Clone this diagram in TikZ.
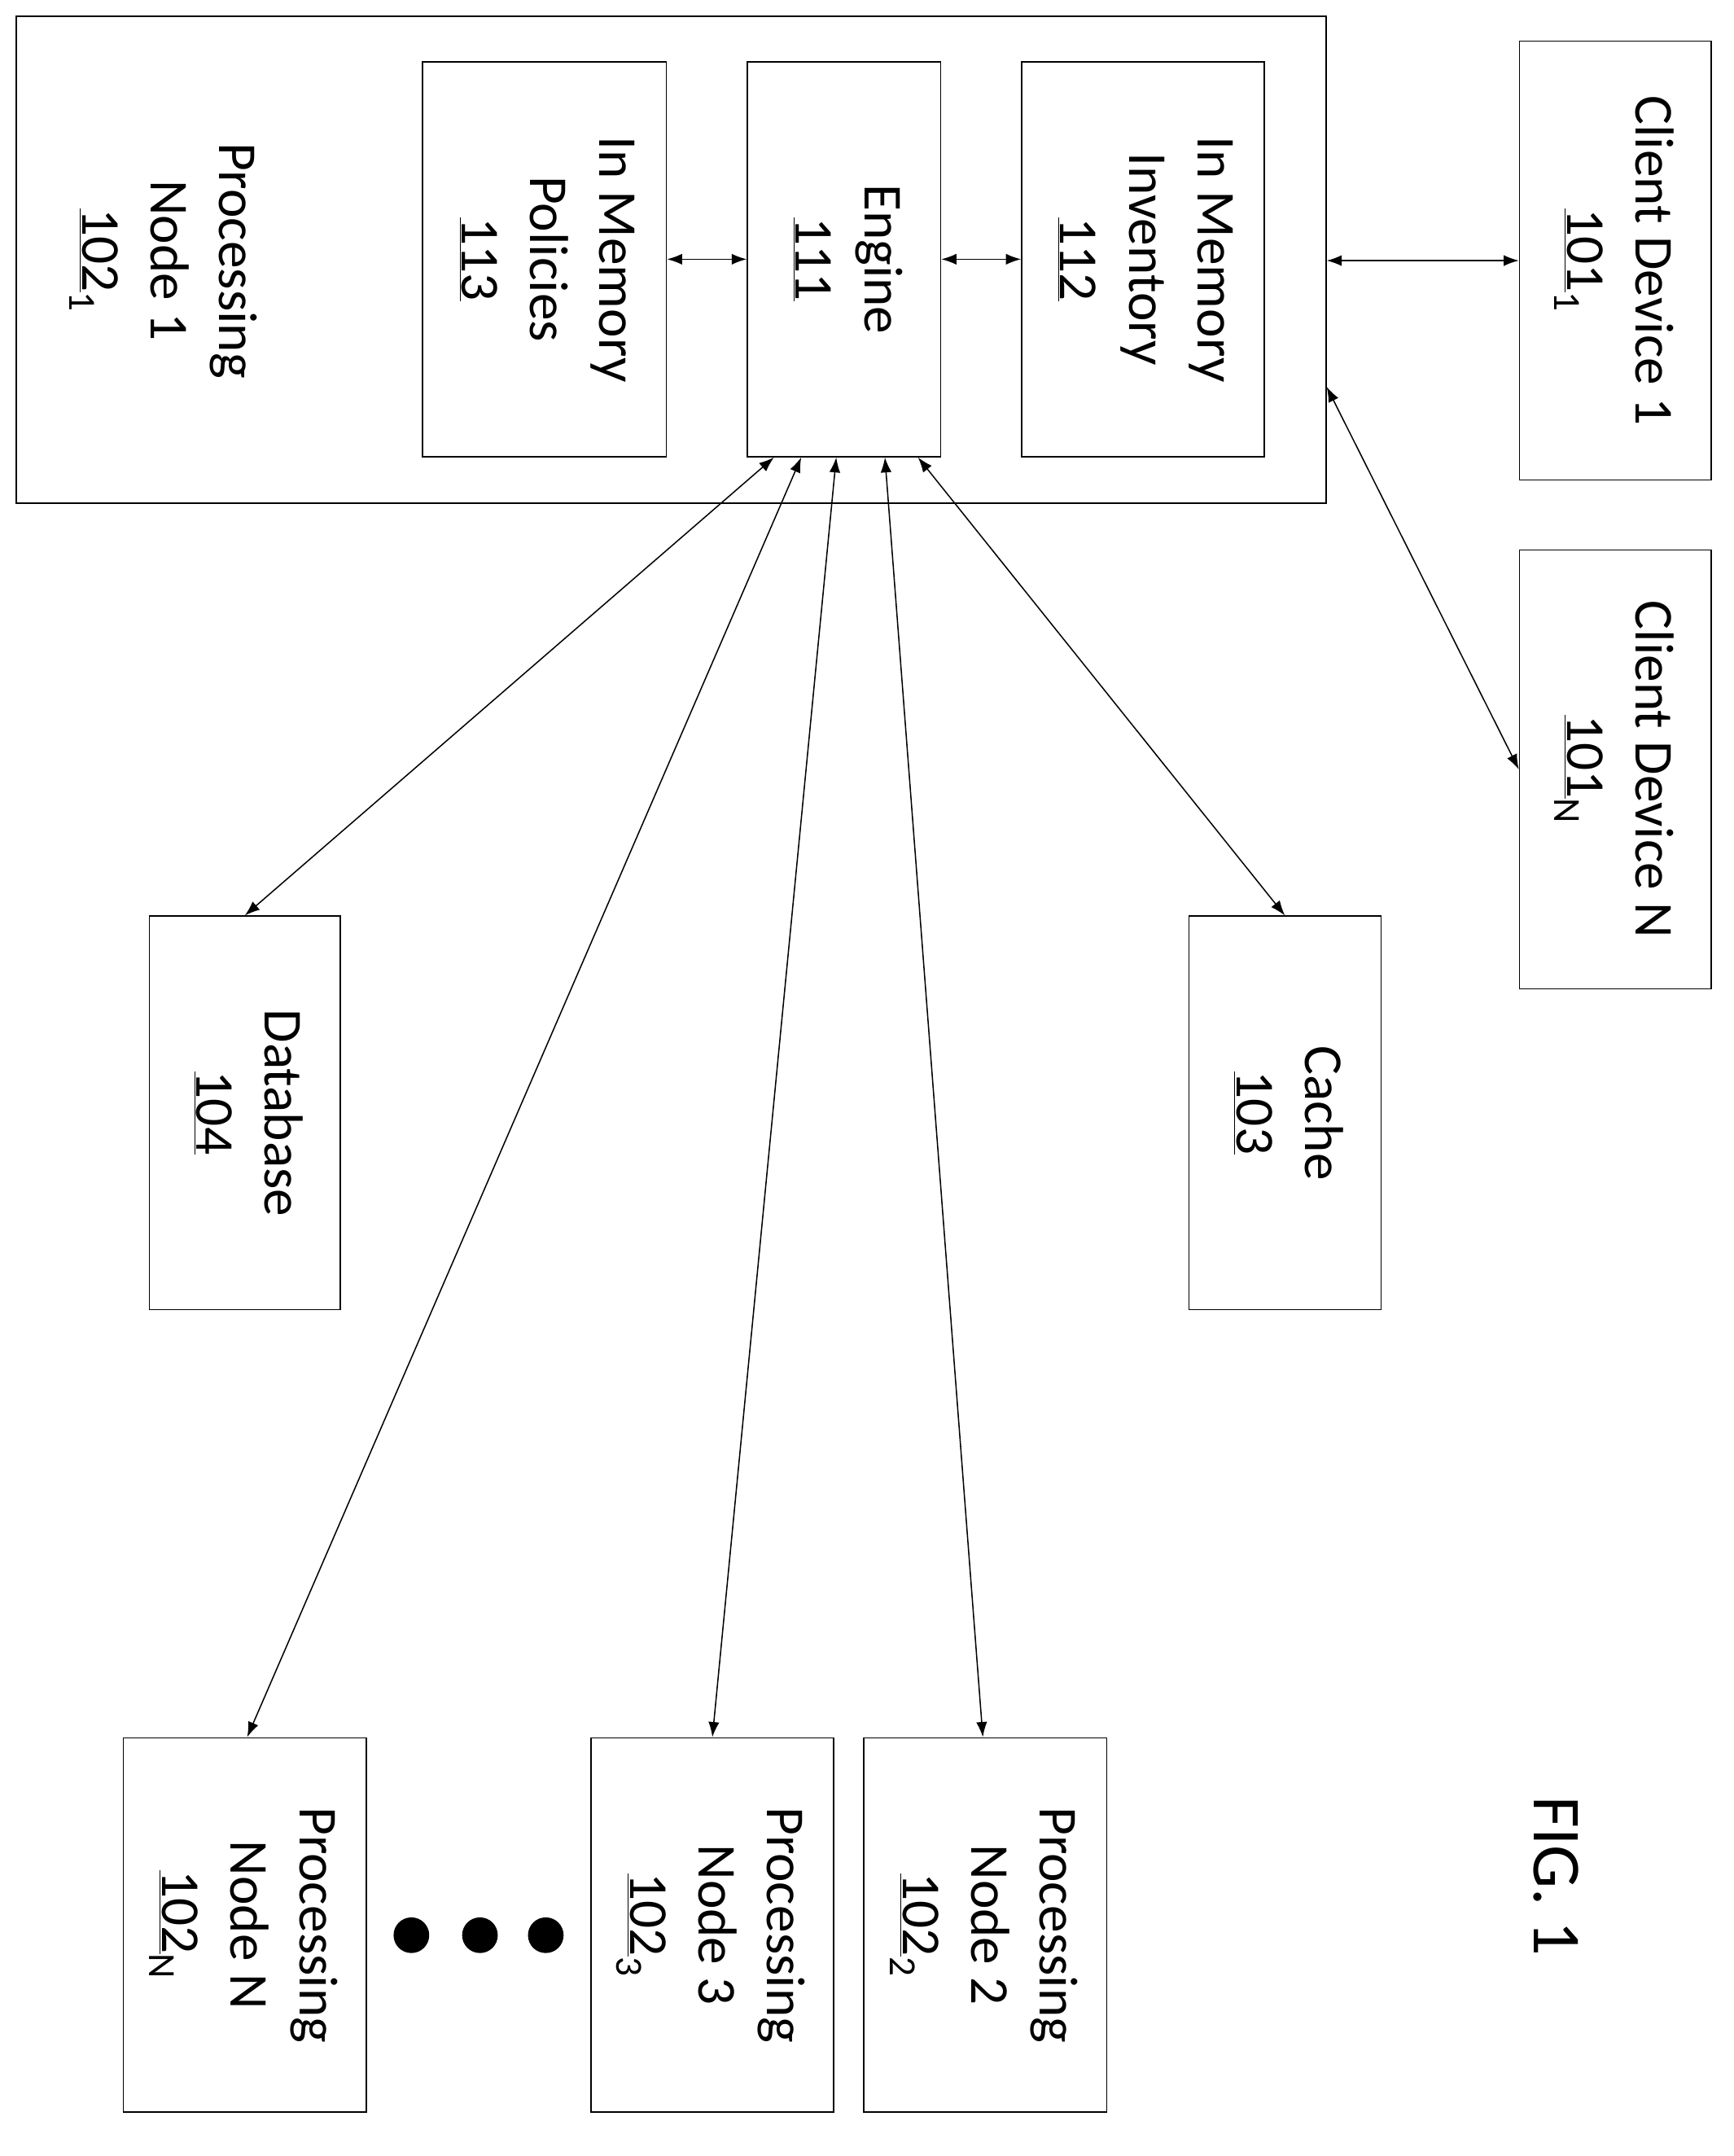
\documentclass[tikz,border=0pt]{standalone}
\usepackage{fontspec}
\setmainfont{Carlito}
\usetikzlibrary{arrows.meta,calc,positioning}
\tikzset{%
  box/.style = {rectangle,draw,line width=0.9pt,inner sep=0pt},
  link/.style = {{Latex[length=11pt,width=8pt]}-{Latex[length=11pt,width=8pt]},line width=0.9pt},
  dot/.style = {circle,fill,inner sep=0pt,minimum size=26pt}
}
\newcommand{\vtext}[1]{\rotatebox{-90}{\begin{tabular}{c}#1\end{tabular}}}
\begin{document}
\begin{tikzpicture}[x=1pt,y=-1pt]\fontsize{40}{50}\selectfont
   \useasboundingbox (0,0) rectangle (1264,1572);
   % processing node 1 and its parts
   \node[box,minimum width=955pt,minimum height=355pt] (pn1) at (489.5,189.5) {};
   \node at (120,190) {\vtext{Processing\\Node 1\\\underline{102}\textsubscript{1}}};
   \node[box,minimum width=178pt,minimum height=288pt] (pol) at (397,189) {\vtext{In Memory\\Policies\\\underline{113}}};
   \node[box,minimum width=141pt,minimum height=288pt] (eng) at (615.5,189) {\vtext{Engine\\\underline{111}}};
   \node[box,minimum width=177pt,minimum height=288pt] (inv) at (833.5,189) {\vtext{In Memory\\Inventory\\\underline{112}}};
   % clients
   \node[box,minimum width=140pt,minimum height=320pt] (cd1) at (1178,190) {\vtext{Client Device 1\\\underline{101}\textsubscript{1}}};
   \node[box,minimum width=140pt,minimum height=320pt] (cdn) at (1178,561) {\vtext{Client Device N\\\underline{101}\textsubscript{N}}};
   % storage
   \node[box,minimum width=140pt,minimum height=287pt] (cache) at (937,811.5) {\vtext{Cache\\\underline{103}}};
   \node[box,minimum width=139pt,minimum height=287pt] (db) at (178.5,811.5) {\vtext{Database\\\underline{104}}};
   % other processing nodes
   \node[box,minimum width=177pt,minimum height=273pt] (pn2) at (718.5,1403.5) {\vtext{Processing\\Node 2\\\underline{102}\textsubscript{2}}};
   \node[box,minimum width=177pt,minimum height=273pt] (pn3) at (519.5,1403.5) {\vtext{Processing\\Node 3\\\underline{102}\textsubscript{3}}};
   \node[box,minimum width=177pt,minimum height=273pt] (pnn) at (178.5,1403.5) {\vtext{Processing\\Node N\\\underline{102}\textsubscript{N}}};
   \node[dot] (d1) at (300,1411) {};
   \node[dot] (d2) at (350,1411) {};
   \node[dot] (d3) at (398,1411) {};
   \node (fig) at (1135,1368) {\fontsize{50}{60}\selectfont\rotatebox{-90}{FIG. 1}};

   \draw[link] (pol.east) -- (eng.west);
   \draw[link] (eng.east) -- (inv.west);
   \draw[link] (pn1.east |- cd1.west) -- (cd1.west);
   \draw[link] ($(pn1.south east)!0.24!(pn1.north east)$) -- ($(cdn.south west)!0.5!(cdn.north west)$);
   \draw[link] ($(eng.south west)!0.14!(eng.south east)$) -- (db.north);
   \draw[link] ($(eng.south west)!0.28!(eng.south east)$) -- ($(pnn.north west)!0.51!(pnn.north east)$);
   \draw[link] ($(eng.south west)!0.46!(eng.south east)$) -- (pn3.north);
   \draw[link] ($(eng.south west)!0.71!(eng.south east)$) -- ($(pn2.north west)!0.49!(pn2.north east)$);
   \draw[link] ($(eng.south west)!0.88!(eng.south east)$) -- (cache.north);
\end{tikzpicture}
\end{document}
